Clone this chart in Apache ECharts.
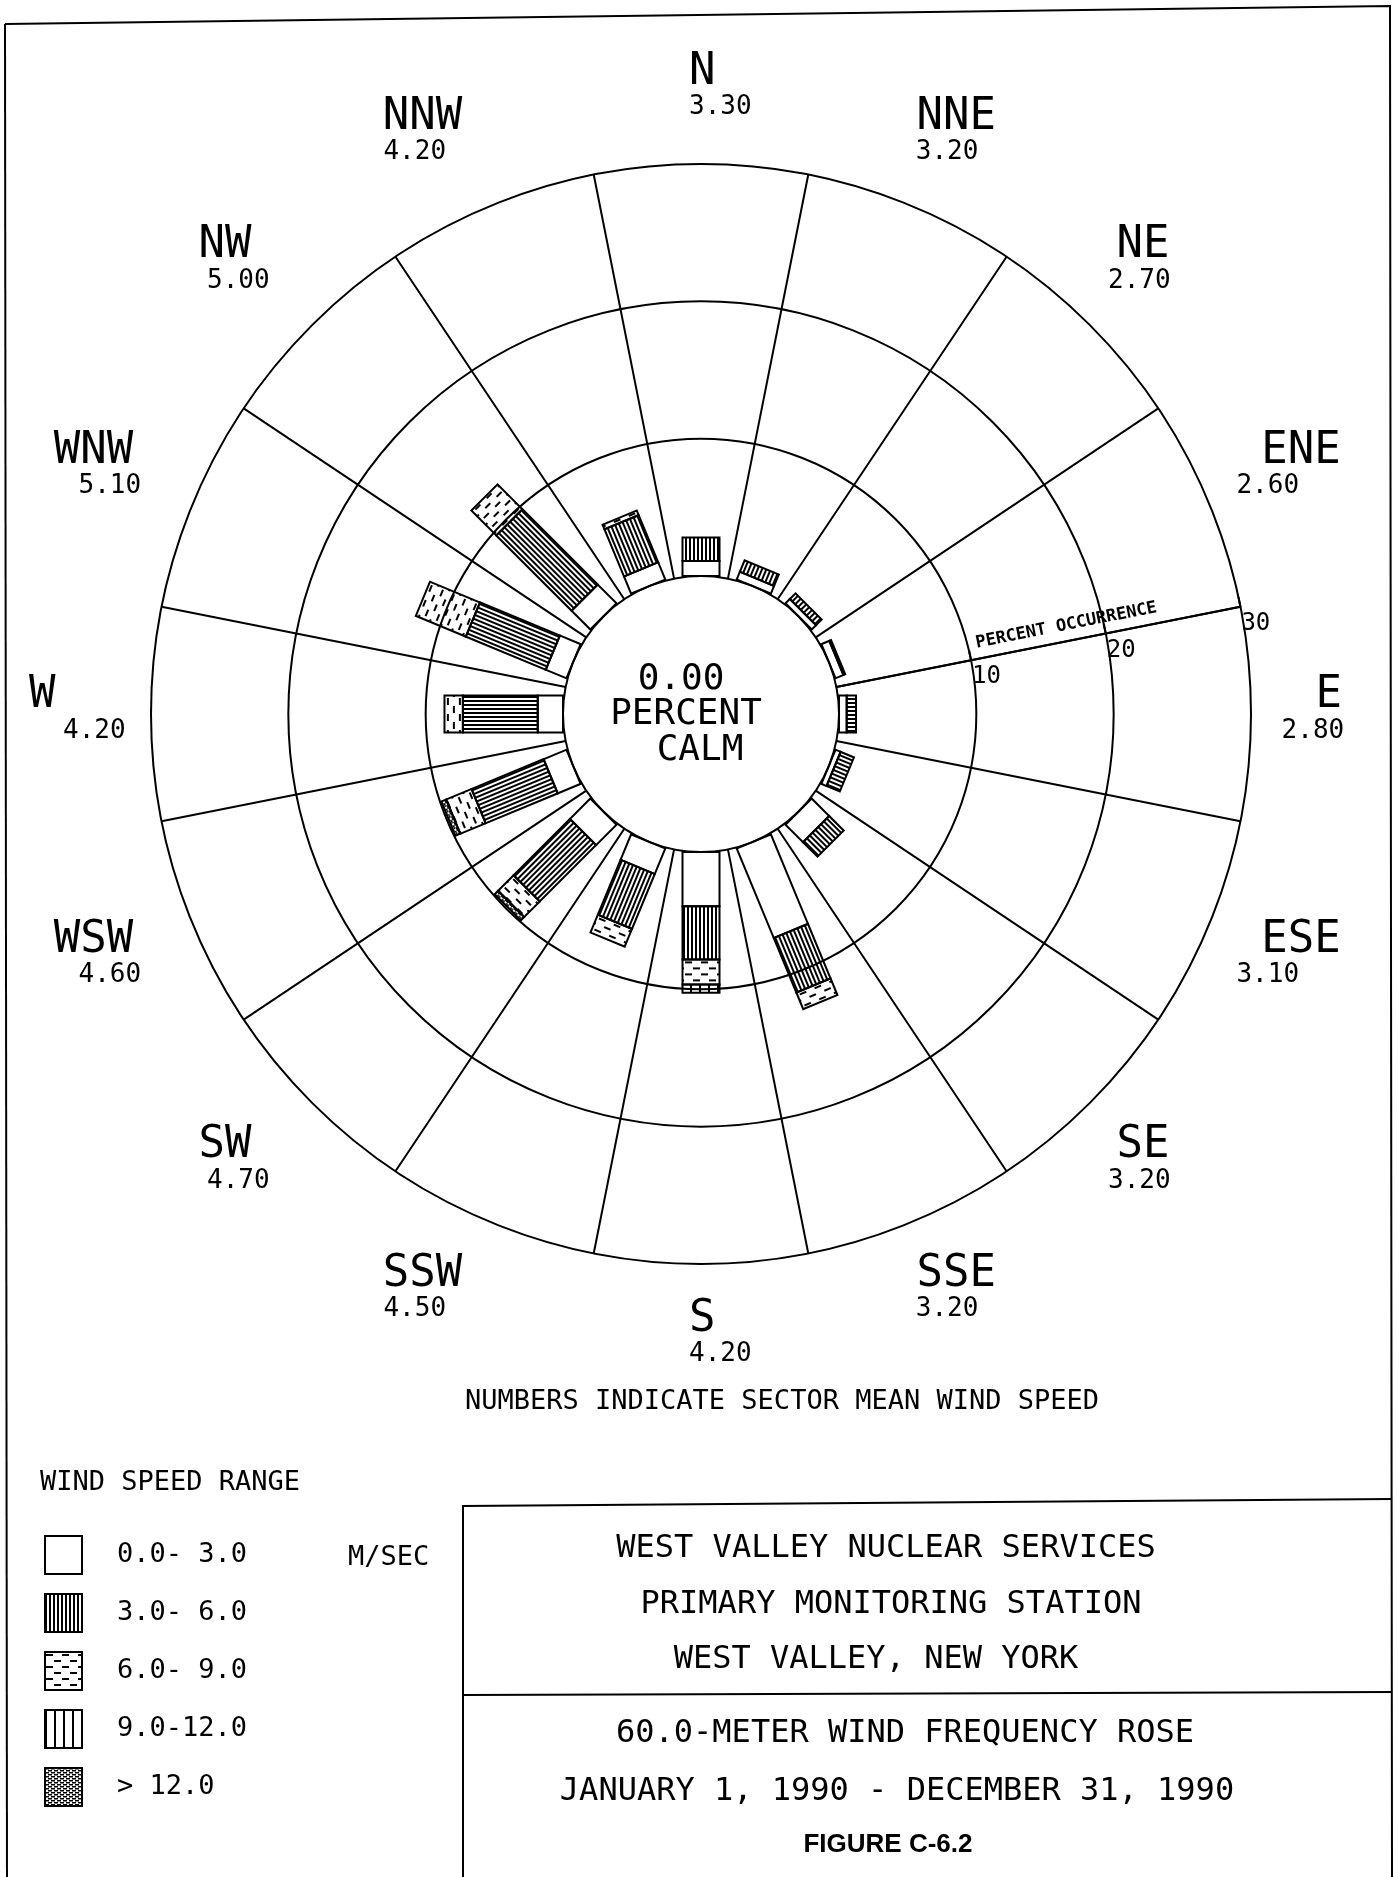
<!DOCTYPE html>
<html>
<head>
<meta charset="utf-8">
<title>60.0-Meter Wind Frequency Rose</title>
<script src="https://cdn.jsdelivr.net/npm/echarts@6/dist/echarts.min.js"></script>
<style>
  html, body { margin: 0; padding: 0; background: #fff; }
  #chart { width: 1398px; height: 1877px; }
</style>
</head>
<body>
<div id="chart"></div>
<script>
// sectors, clockwise from north (compass degrees)
const directions = ['N', 'NNE', 'NE', 'ENE', 'E', 'ESE', 'SE', 'SSE', 'S', 'SSW', 'SW', 'WSW', 'W', 'WNW', 'NW', 'NNW'];
const directionAngles = [0, 22.5, 45, 67.5, 90, 112.5, 135, 157.5, 180, 202.5, 225, 247.5, 270, 292.5, 315, 337.5];
// sector mean wind speed (m/s)
const meanSpeeds = [3.30, 3.20, 2.70, 2.60, 2.80, 3.10, 3.20, 3.20, 4.20, 4.50, 4.70, 4.60, 4.20, 5.10, 5.00, 4.20];
const calmPercent = 0.00;

// percent occurrence per wind speed class
const speedClasses = ['0.0- 3.0', '3.0- 6.0', '6.0- 9.0', '9.0-12.0', '> 12.0'];
const pct0to3   = [1.10, 0.60, 0.45, 0.62, 0.56, 0.40, 1.80, 7.05, 3.95, 2.00, 2.10, 1.80, 1.84, 1.63, 1.93, 1.35];
const pct3to6   = [1.70, 0.90, 0.58, 0.14, 0.68, 1.05, 1.50, 4.30, 3.87, 4.33, 5.80, 5.68, 5.45, 6.30, 7.76, 3.72];
const pct6to9   = [0, 0, 0, 0, 0, 0, 0, 1.30, 1.82, 1.40, 1.60, 2.00, 1.34, 3.94, 2.56, 0.36];
const pct9to12  = [0, 0, 0, 0, 0, 0, 0, 0, 0.60, 0, 0, 0, 0, 0, 0, 0];
const pctOver12 = [0, 0, 0, 0, 0, 0, 0, 0, 0, 0, 0.35, 0.38, 0, 0, 0, 0];
const classValues = [pct0to3, pct3to6, pct6to9, pct9to12, pctOver12];

// percent occurrence rings
const percentTicks = [0, 10, 20, 30];

const FONT = '"DejaVu Sans Mono", monospace';
const CENTER = [701, 714];
const RADIUS = [138, 550];   // calm circle, 30 % ring
const BAR_W = 37;            // bar width in px
const AXIS_START = 78.75;    // compass angle of the percent axis
const LABEL_R = 33.1;        // inner corner of each sector label, in percent units
const CHAR_W = 26.5;         // width of one 44px name glyph
const SPEED_W = 63;          // width of a "0.00" speed label

// fill patterns, drawn as if the bar points north
function makePattern(w, h, draw) {
  const c = document.createElement('canvas');
  c.width = w;
  c.height = h;
  const ctx = c.getContext('2d');
  ctx.fillStyle = '#000';
  draw(ctx);
  return { image: c, repeat: 'repeat' };
}
const patterns = [
  'rgba(255,255,255,0)',
  makePattern(4, 4, ctx => ctx.fillRect(0, 0, 2, 4)),
  makePattern(16, 12, ctx => { ctx.fillRect(1, 2, 7, 2); ctx.fillRect(9, 8, 7, 2); }),
  makePattern(9, 4, ctx => ctx.fillRect(0, 0, 2, 4)),
  makePattern(6, 4, ctx => { ctx.fillRect(0, 0, 4, 1.5); ctx.fillRect(3, 2, 3, 1.5); ctx.fillRect(0, 2, 1, 1.5); })
];

// compass angle -> value on the angle axis (axis runs from AXIS_START)
function toAngleValue(deg) {
  return deg < AXIS_START ? deg + 360 : deg;
}

// one stacked rectangle segment per sector and class
const barSeries = speedClasses.map((name, k) => {
  const data = [];
  directions.forEach((d, i) => {
    const v = classValues[k][i];
    if (!v) return;
    let start = 0;
    for (let j = 0; j < k; j++) start += classValues[j][i];
    data.push([start, start + v, toAngleValue(directionAngles[i])]);
  });
  return {
    type: 'custom',
    name: name,
    coordinateSystem: 'polar',
    silent: true,
    encode: { radius: [0, 1], angle: 2 },
    itemStyle: { color: patterns[k], borderColor: '#000', borderWidth: 2 },
    data: data,
    renderItem: function (params, api) {
      const p0 = api.coord([api.value(0), api.value(2)]);
      const p1 = api.coord([api.value(1), api.value(2)]);
      const dx = p1[0] - p0[0], dy = p1[1] - p0[1];
      const len = Math.sqrt(dx * dx + dy * dy);
      return {
        type: 'rect',
        x: p0[0],
        y: p0[1],
        rotation: -(Math.atan2(dy, dx) + Math.PI / 2),
        shape: { x: -BAR_W / 2, y: -len, width: BAR_W, height: len },
        style: { fill: patterns[k], stroke: '#000', lineWidth: 2 }
      };
    }
  };
});

function clamp(v, lo, hi) {
  return Math.max(lo, Math.min(hi, v));
}

// sector name and mean speed outside the rose; the block is pushed
// outward from its anchor so its inner corner sits on the label ring
const labelSeries = {
  type: 'custom',
  coordinateSystem: 'polar',
  silent: true,
  encode: { radius: 0, angle: 1 },
  data: directions.map((d, i) => [LABEL_R, toAngleValue(directionAngles[i])]),
  renderItem: function (params, api) {
    const i = params.dataIndex;
    const p = api.coord([api.value(0), api.value(1)]);
    const rad = directionAngles[i] * Math.PI / 180;
    const s = Math.sin(rad), c = Math.cos(rad);
    const shift = -34 * s * Math.pow(Math.abs(s), 3);
    const spanMin = Math.min(0, shift);
    const spanMax = Math.max(directions[i].length * CHAR_W, SPEED_W + shift);
    const w = spanMax - spanMin, hh = 31;
    const blockLeft = Math.max(29, p[0] - 12 - w * clamp(-3 * s, 0, 1));
    const cy = p[1] - 1 + clamp(-1.5 * c, -1, 1) * hh;
    const nameX = blockLeft - spanMin;
    return {
      type: 'group',
      children: [
        { type: 'text', x: nameX, y: cy - 17,
          style: { text: directions[i], font: '44px ' + FONT, fill: '#000', align: 'left', verticalAlign: 'middle' } },
        { type: 'text', x: nameX + shift, y: cy + 18,
          style: { text: meanSpeeds[i].toFixed(2), font: '26px ' + FONT, fill: '#000', align: 'left', verticalAlign: 'middle' } }
      ]
    };
  }
};

function txt(x, y, text, size, align) {
  return {
    type: 'text', x: x, y: y,
    style: { text: text, font: size + 'px ' + FONT, fill: '#000', align: align || 'center', verticalAlign: 'middle' }
  };
}
function line(points) {
  return { type: 'polyline', shape: { points: points }, style: { stroke: '#000', lineWidth: 2, fill: null } };
}

const chart = echarts.init(document.getElementById('chart'));
chart.setOption({
  animation: false,
  backgroundColor: '#fff',
  polar: { center: CENTER, radius: RADIUS },
  angleAxis: {
    type: 'value',
    min: AXIS_START,
    max: AXIS_START + 360,
    interval: 22.5,
    startAngle: 90 - AXIS_START,
    clockwise: true,
    axisLine: { show: false },
    axisTick: { show: false },
    axisLabel: { show: false },
    splitLine: { show: true, lineStyle: { color: '#000', width: 2 } }
  },
  radiusAxis: {
    type: 'value',
    min: percentTicks[0],
    max: percentTicks[percentTicks.length - 1],
    interval: percentTicks[1] - percentTicks[0],
    axisLine: { show: true, lineStyle: { color: '#000', width: 2 } },
    axisTick: { show: true, length: 10, lineStyle: { color: '#000', width: 2 } },
    axisLabel: { show: true, margin: -5, align: 'left', verticalAlign: 'top',
                 fontFamily: FONT, fontSize: 24, color: '#000', showMinLabel: false },
    splitLine: { show: true, lineStyle: { color: '#000', width: 2 } }
  },
  legend: {
    data: speedClasses,
    orient: 'vertical',
    left: 39,
    top: 1530,
    icon: 'rect',
    itemWidth: 37,
    itemHeight: 38,
    itemGap: 18,
    selectedMode: false,
    itemStyle: { borderColor: '#000', borderWidth: 2 },
    textStyle: { fontFamily: FONT, fontSize: 27, color: '#000', padding: [14, 0, 0, 30] }
  },
  graphic: [
    // page frame and title box
    line([[5, 24], [1390, 6], [1392, 1877]]),
    line([[5, 24], [7, 1877]]),
    line([[463, 1877], [463, 1506], [1392, 1499]]),
    line([[463, 1695], [1392, 1692]]),
    // calm circle text
    txt(681, 680, calmPercent.toFixed(2), 36),
    txt(686, 715, 'PERCENT', 36),
    txt(700, 751, 'CALM', 36),
    txt(782, 1402, 'NUMBERS INDICATE SECTOR MEAN WIND SPEED', 27),
    // legend heading and units
    txt(40, 1483, 'WIND SPEED RANGE', 27, 'left'),
    txt(348, 1558, 'M/SEC', 27, 'left'),
    // title block
    txt(886, 1549, 'WEST VALLEY NUCLEAR SERVICES', 32),
    txt(891, 1605, 'PRIMARY MONITORING STATION', 32),
    txt(876, 1660, 'WEST VALLEY, NEW YORK', 32),
    txt(905, 1734, '60.0-METER WIND FREQUENCY ROSE', 32),
    txt(897, 1792, 'JANUARY 1, 1990 - DECEMBER 31, 1990', 32),
    { type: 'text', x: 888, y: 1845,
      style: { text: 'FIGURE C-6.2', font: 'bold 26px "Liberation Sans", Arial, sans-serif', fill: '#000', align: 'center', verticalAlign: 'middle' } }
  ],
  series: barSeries.concat([labelSeries])
});

// percent axis title, laid along the axis just above it
const axisRot = (90 - AXIS_START) * Math.PI / 180;
const namePt = chart.convertToPixel({ polarIndex: 0 }, [17.3, AXIS_START]);
if (namePt) {
  chart.setOption({
    graphic: [{
      id: 'percentName', type: 'text',
      x: namePt[0] - 7 * Math.sin(axisRot), y: namePt[1] - 7 * Math.cos(axisRot),
      rotation: axisRot,
      style: { text: 'PERCENT OCCURRENCE', font: 'bold 17px ' + FONT, fill: '#000', align: 'center', verticalAlign: 'bottom' }
    }]
  });
}
</script>
</body>
</html>
